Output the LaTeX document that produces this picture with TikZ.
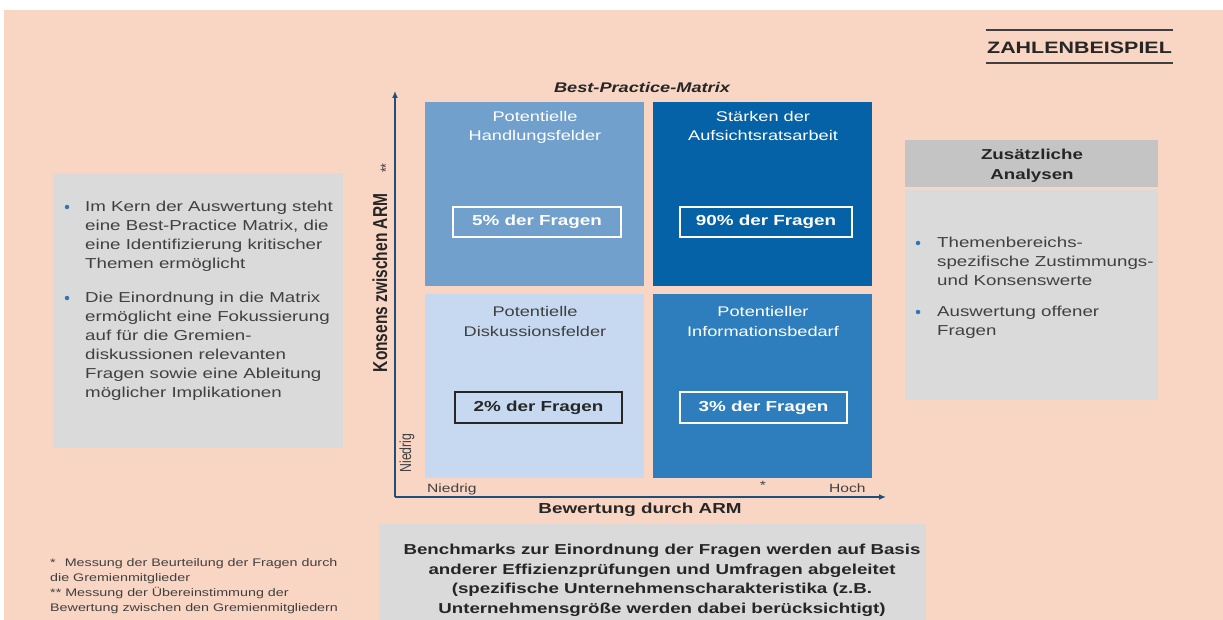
\documentclass[tikz,border=0pt]{standalone}
\usepackage{fontspec}
\usepackage{graphicx}
\setmainfont{Liberation Sans}[FakeStretch=1.3]
\newfontfamily\uprightsans{Liberation Sans}
\usetikzlibrary{arrows.meta}

\definecolor{peach}{HTML}{F9D5C3}
\definecolor{tlblue}{HTML}{71A0CC}
\definecolor{trblue}{HTML}{0662A6}
\definecolor{blblue}{HTML}{C6D9F0}
\definecolor{brblue}{HTML}{2E7EBE}
\definecolor{boxgray}{HTML}{DADADA}
\definecolor{headgray}{HTML}{C4C4C4}
\definecolor{axisblue}{HTML}{1F4E79}
\definecolor{txtdark}{HTML}{262626}
\definecolor{txtgray}{HTML}{404040}
\definecolor{bulletblue}{HTML}{2E75B6}

\tikzset{
  panel/.style={fill=boxgray, draw=none, inner sep=0pt, outer sep=0pt},
  quad/.style={draw=none, inner sep=0pt, outer sep=0pt, minimum width=219, minimum height=184},
  share/.style={draw=white, line width=1.5pt, inner sep=0pt, minimum height=30,
    text=white, font=\fontsize{14.5}{17}\selectfont\bfseries},
  qtitle/.style={inner sep=0pt, anchor=base, text=white, font=\fontsize{14}{19}\selectfont},
  body/.style={inner sep=0pt, anchor=base west, text=txtgray, font=\fontsize{14.4}{18.9}\selectfont},
  bodybold/.style={inner sep=0pt, anchor=base, text=txtdark, font=\fontsize{14.4}{19.5}\selectfont\bfseries},
  tick/.style={inner sep=0pt, text=txtgray, font=\fontsize{12}{14}\selectfont},
  note/.style={inner sep=0pt, anchor=base west, text=txtgray, font=\fontsize{11}{15}\selectfont},
  dot/.style={circle, fill=bulletblue, inner sep=0pt, minimum size=4.5},
  axis/.style={draw=axisblue, line width=1.8pt, -{Latex[length=7pt,width=6pt]}},
  rulebar/.style={draw=txtgray, line width=2.6pt},
}

\begin{document}
\begin{tikzpicture}[x=1pt, y=-1pt]
\useasboundingbox (0,0) rectangle (1223,620);
\fill[white] (0,0) rectangle (1223,620);
\fill[peach] (4,10) rectangle (1223,620);

% header label with rules above and below
\draw[rulebar] (986,30) -- (1173,30);
\draw[rulebar] (986,63) -- (1173,63);
\node[inner sep=0pt, anchor=base, text=txtdark, font=\fontsize{16.5}{18}\selectfont\bfseries]
  (zb) at (1079.5,53.3) {ZAHLENBEISPIEL};

% matrix title
\node[inner sep=0pt, anchor=base, text=txtdark, font=\fontsize{14}{16}\selectfont\bfseries\itshape]
  (mtitle) at (642,92.5) {Best-Practice-Matrix};

% quadrants
\node[quad, fill=tlblue] (qTL) at (534.5,194) {};
\node[quad, fill=trblue] (qTR) at (762.5,194) {};
\node[quad, fill=blblue] (qBL) at (534.5,386) {};
\node[quad, fill=brblue] (qBR) at (762.5,386) {};

\node[qtitle] (tTL1) at (535,121.5) {Potentielle};
\node[qtitle] (tTL2) at (535,140.5) {Handlungsfelder};
\node[qtitle] (tTR1) at (763,121.5) {Stärken der};
\node[qtitle] (tTR2) at (763,140.5) {Aufsichtsratsarbeit};
\node[qtitle, text=txtgray] (tBL1) at (535,316.5) {Potentielle};
\node[qtitle, text=txtgray] (tBL2) at (535,336.5) {Diskussionsfelder};
\node[qtitle] (tBR1) at (763,316.5) {Potentieller};
\node[qtitle] (tBR2) at (763,336.5) {Informationsbedarf};

\node[share, minimum width=168] (bTL) at (537,222) {5\% der Fragen};
\node[share, minimum width=172] (bTR) at (766,222) {90\% der Fragen};
\node[share, minimum width=167, minimum height=31, draw=txtdark, line width=2pt, text=txtdark]
  (bBL) at (538.5,407.5) {2\% der Fragen};
\node[share, minimum width=167, minimum height=31] (bBR) at (763.5,407.5) {3\% der Fragen};

% axes
\coordinate (origin) at (395,497);
\coordinate (ytip) at (395,91);
\coordinate (xtip) at (886,497);
\draw[axis] (origin) -- (ytip);
\draw[axis] (origin) -- (xtip);

\node[tick, anchor=base west] (xlo) at (427,492.5) {Niedrig};
\node[tick, anchor=base west] (xhi) at (829,492.5) {Hoch};
\node[tick] (xstar) at (763,485) {*};
\node[tick, rotate=90] (ylo) at (407,453) {\uprightsans\fontsize{12.3}{14}\selectfont\scalebox{1}[1.3]{Niedrig}};
\node[tick, rotate=90] (ystar) at (386,168) {\uprightsans\scalebox{1}[1.3]{**}};

\node[inner sep=0pt, anchor=base, text=txtdark, font=\fontsize{14.5}{16}\selectfont\bfseries]
  (xlabel) at (640,513.5) {Bewertung durch ARM};
\node[inner sep=0pt, rotate=90, text=txtdark]
  (ylabel) at (380,283) {\uprightsans\bfseries\fontsize{15.5}{17}\selectfont\scalebox{1}[1.3]{Konsens zwischen ARM}};

% left explanation panel
\node[panel, minimum width=290, minimum height=275] (left) at (198,310.5) {};
\node[dot] (dl1) at (67,207) {};
\node[dot] (dl2) at (67,298) {};
\foreach \ln [count=\i] in {{Im Kern der Auswertung steht}, {eine Best-Practice Matrix,  die},
    {eine Identifizierung  kritischer}, {Themen ermöglicht}}
  \node[body] (la\i) at ({85},{211.6+18.9*(\i-1)}) {\ln};
\foreach \ln [count=\i] in {{Die Einordnung  in die Matrix}, {ermöglicht eine Fokussierung},
    {auf für die Gremien-}, {diskussionen relevanten}, {Fragen sowie eine Ableitung},
    {möglicher Implikationen}}
  \node[body] (lb\i) at ({85},{302.6+18.9*(\i-1)}) {\ln};

% right panel: additional analyses
\node[panel, fill=headgray, minimum width=253, minimum height=47] (rhead) at (1031.5,163.5) {};
\node[panel, minimum width=253, minimum height=210] (rbody) at (1031.5,295) {};
\node[bodybold] (rh1) at (1032,159.6) {Zusätzliche};
\node[bodybold] (rh2) at (1032,179.6) {Analysen};
\node[dot] (dr1) at (918,243) {};
\node[dot] (dr2) at (918,312) {};
\foreach \ln [count=\i] in {{Themenbereichs-}, {spezifische Zustimmungs-}, {und Konsenswerte}}
  \node[body] (ra\i) at ({937},{247.6+18.9*(\i-1)}) {\ln};
\foreach \ln [count=\i] in {{Auswertung offener}, {Fragen}}
  \node[body] (rb\i) at ({937},{316.6+18.9*(\i-1)}) {\ln};

% bottom panel: benchmarks
\node[panel, minimum width=547, minimum height=98] (bottom) at (652.5,573) {};
\foreach \ln [count=\i] in {{Benchmarks zur Einordnung der Fragen werden auf Basis},
    {anderer Effizienzprüfungen und Umfragen abgeleitet},
    {(spezifische Unternehmenscharakteristika (z.B.},
    {Unternehmensgröße werden dabei berücksichtigt)}}
  \node[bodybold] (bm\i) at ({662},{554.6+19.5*(\i-1)}) {\ln};

% footnotes
\node[note] (fn1) at (50,566.5) {*\hspace{9pt}Messung der Beurteilung  der Fragen durch};
\node[note] (fn2) at (50,581.5) {die Gremienmitglieder};
\node[note] (fn3) at (50,596.5) {** Messung der Übereinstimmung  der};
\node[note] (fn4) at (50,611.5) {Bewertung zwischen den Gremienmitgliedern};
\end{tikzpicture}
\end{document}
